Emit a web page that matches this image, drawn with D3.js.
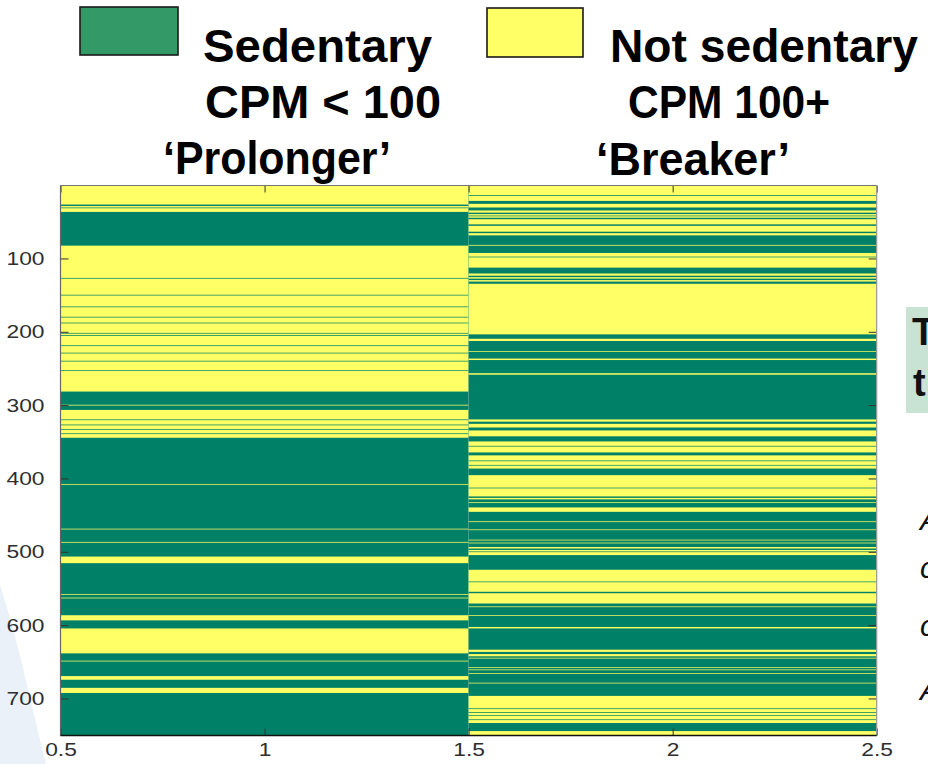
<!DOCTYPE html>
<html><head><meta charset="utf-8">
<script src="https://cdn.jsdelivr.net/npm/d3@7"></script>
<style>body{margin:0;background:#fff;overflow:hidden}</style>
</head><body>
<svg id="c" width="928" height="764"></svg>
<script>
// ---------------- data ----------------
const columns = [1, 2];
const columnNames = ["Prolonger", "Breaker"];
const nRows = 750;
// rows (inclusive) that are "Not sedentary" (yellow); all other rows are "Sedentary" (green)
const prolongerYellow = [[1,26],[29,30],[32,36],[83,126],[128,149],[151,165],[167,179],[181,187],[189,201],[203,204],[206,218],[220,228],[230,239],[241,252],[254,281],[300,300],[307,319],[321,326],[328,332],[334,338],[340,344],[408,408],[469,469],[487,487],[507,515],[558,558],[563,563],[587,593],[605,638],[649,649],[670,674],[686,692]];
const breakerYellow = [[1,13],[15,21],[26,30],[35,37],[40,41],[43,44],[47,53],[56,63],[66,68],[82,82],[93,97],[99,112],[121,123],[126,127],[130,131],[135,203],[210,212],[227,227],[237,238],[257,258],[320,322],[326,330],[335,342],[350,355],[357,364],[369,375],[377,381],[383,386],[396,412],[414,424],[427,428],[433,433],[440,445],[459,459],[470,470],[484,484],[488,488],[494,495],[498,499],[501,504],[525,540],[542,554],[557,570],[575,575],[587,587],[603,604],[634,636],[640,642],[645,645],[658,658],[661,661],[666,666],[679,679],[697,713],[715,718],[720,722],[724,728],[730,733],[745,750]];
const xTicks = [0.5, 1, 1.5, 2, 2.5];
const xTickLabels = ["0.5", "1", "1.5", "2", "2.5"];
const yTicks = [100, 200, 300, 400, 500, 600, 700];
const legendLabels = ["Sedentary", "Not sedentary"];
const legendSubLabels = ["CPM < 100", "CPM 100+"];
const groupLabels = ["\u2018Prolonger\u2019", "\u2018Breaker\u2019"];

// ---------------- drawing ----------------
const GREEN = "#008066", YELLOW = "#ffff66";
const svg = d3.select("#c");
const FONT = "Arial, 'Liberation Sans', Helvetica, sans-serif";

// pale slide decoration bottom-left
svg.append("path")
  .attr("d", "M0,585 C18,640 30,700 46,764 L0,764 Z")
  .attr("fill", "#ebf1f9");

const x = d3.scaleLinear().domain([0.5, 2.5]).range([60.5, 876.7]);
const y = d3.scaleLinear().domain([0.5, nRows + 0.5]).range([185.5, 735.5]);

const data = [prolongerYellow, breakerYellow];
const plot = svg.append("g");
columns.forEach((c, i) => {
  const g = plot.append("g").attr("class", "col-" + columnNames[i]);
  g.append("rect")
    .attr("x", x(c - 0.5)).attr("width", x(c + 0.5) - x(c - 0.5))
    .attr("y", y(0.5)).attr("height", y(nRows + 0.5) - y(0.5))
    .attr("fill", GREEN);
  g.selectAll("rect.y").data(data[i]).join("rect").attr("class", "y")
    .attr("x", x(c - 0.5)).attr("width", x(c + 0.5) - x(c - 0.5))
    .attr("y", d => y(d[0] - 0.5))
    .attr("height", d => y(d[1] + 0.5) - y(d[0] - 0.5))
    .attr("fill", YELLOW);
});

// axes (ticks inward)
const sx = 1.2;
const gl = svg.append("g").attr("transform", `translate(${x(0.5)},0)`)
  .call(d3.axisLeft(y).tickValues(yTicks).tickSizeInner(-8).tickSizeOuter(0).tickPadding(16));
const gr = svg.append("g").attr("transform", `translate(${x(2.5)},0)`)
  .call(d3.axisRight(y).tickValues(yTicks).tickSizeInner(-8).tickSizeOuter(0).tickFormat(""));
const gb = svg.append("g").attr("transform", `translate(0,${y(nRows + 0.5)})`)
  .call(d3.axisBottom(x).tickValues(xTicks).tickSizeInner(-7).tickSizeOuter(0).tickPadding(7)
    .tickFormat((d, i) => xTickLabels[i]));
const gt = svg.append("g").attr("transform", `translate(0,${y(0.5)})`)
  .call(d3.axisTop(x).tickValues(xTicks).tickSizeInner(-7).tickSizeOuter(0).tickFormat(""));
[gl, gr, gb, gt].forEach(g => {
  g.select(".domain").remove();
  g.selectAll(".tick line").attr("stroke", "#333").attr("stroke-width", 1);
  g.selectAll("text").attr("font-family", FONT).attr("font-size", 19).attr("fill", "#2e2e2e");
});
gl.selectAll("text").attr("transform", `scale(${sx},1)`).attr("x", -16 / sx);
gb.selectAll("text").attr("transform", `scale(${sx},1)`);

// frame
const fx0 = x(0.5), fx1 = x(2.5), fy0 = y(0.5), fy1 = y(nRows + 0.5);
svg.append("line").attr("x1", fx0).attr("x2", fx1).attr("y1", fy0).attr("y2", fy0).attr("stroke", "#777").attr("stroke-width", 1.2);
svg.append("line").attr("x1", fx0).attr("x2", fx0).attr("y1", fy0).attr("y2", fy1).attr("stroke", "#666").attr("stroke-width", 1.2);
svg.append("line").attr("x1", fx1).attr("x2", fx1).attr("y1", fy0).attr("y2", fy1).attr("stroke", "#999").attr("stroke-width", 1.2);
svg.append("line").attr("x1", fx0).attr("x2", fx1).attr("y1", fy1).attr("y2", fy1).attr("stroke", "#111").attr("stroke-width", 1.6);

// legend
const legend = svg.append("g");
const sq = [{x: 80, y: 7, w: 98, h: 48, fill: "#339966"}, {x: 487, y: 8, w: 96, h: 49, fill: YELLOW}];
sq.forEach(s => legend.append("rect").attr("x", s.x).attr("y", s.y).attr("width", s.w).attr("height", s.h)
  .attr("fill", s.fill).attr("stroke", "#1a1a1a").attr("stroke-width", 1.6));
function bigText(t, x0, base, w) {
  legend.append("text").attr("x", x0).attr("y", base).text(t)
    .attr("font-family", FONT).attr("font-weight", "bold").attr("font-size", 47)
    .attr("textLength", w).attr("lengthAdjust", "spacingAndGlyphs").attr("fill", "#000");
}
bigText(legendLabels[0], 203, 62, 229);
bigText(legendSubLabels[0], 205, 118, 236);
bigText(groupLabels[0], 163, 174, 228);
bigText(legendLabels[1], 610, 62, 308);
bigText(legendSubLabels[1], 628, 118, 202);
bigText(groupLabels[1], 596, 175, 194);

// cropped slide fragments on the right edge
svg.append("rect").attr("x", 906).attr("y", 307).attr("width", 30).attr("height", 106).attr("fill", "#c8e2d4");
svg.append("text").attr("x", 912).attr("y", 345).text("T").attr("font-family", FONT).attr("font-weight", "bold").attr("font-size", 38).attr("fill", "#111");
svg.append("text").attr("x", 913).attr("y", 396).text("t").attr("font-family", FONT).attr("font-weight", "bold").attr("font-size", 38).attr("fill", "#111");
[["A", 530], ["c", 578], ["c", 636], ["A", 700]].forEach(([t, b]) =>
  svg.append("text").attr("x", 920).attr("y", b).text(t).attr("font-family", FONT).attr("font-style", "italic")
    .attr("font-size", 30).attr("fill", "#111"));
</script>
</body></html>
